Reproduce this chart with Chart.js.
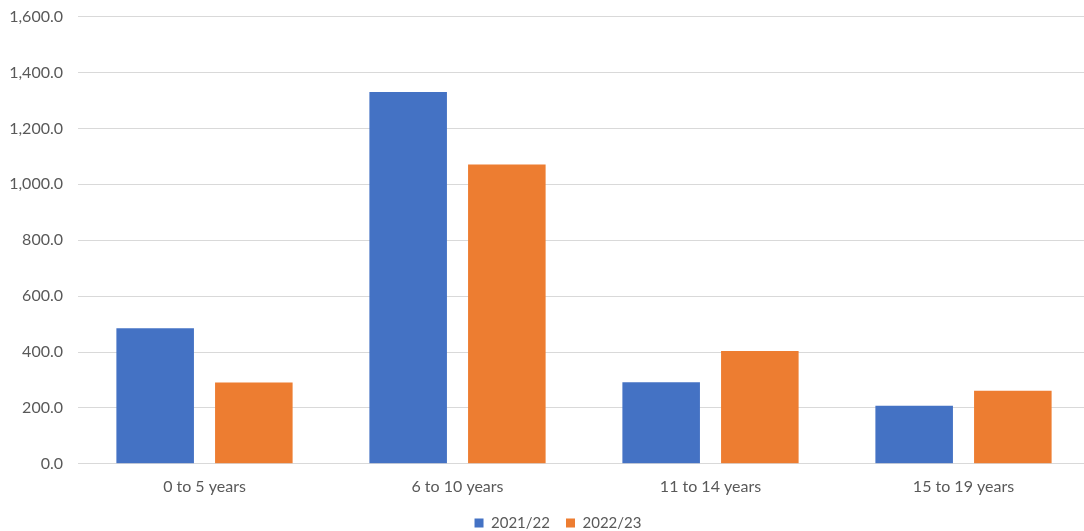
<!DOCTYPE html>
<html>
<head>
<meta charset="utf-8">
<script src="https://cdn.jsdelivr.net/npm/chart.js@4/dist/chart.umd.min.js"></script>
<style>
  html, body { margin: 0; padding: 0; background: #ffffff; }
  #frame { width: 1084px; height: 531px; overflow: hidden; position: relative; }
  #wrap { width: 1090px; height: 531px; position: relative; }
</style>
</head>
<body>
<div id="frame"><div id="wrap"><canvas id="chart"></canvas></div></div>
<script>
// Age bands on the x axis
const categories = ['0 to 5 years', '6 to 10 years', '11 to 14 years', '15 to 19 years'];

// Series values per age band
const series2021 = [485, 1330, 292, 208];
const series2022 = [291, 1071, 404, 261];

// Series names for the legend
const seriesNames = ['2021/22', '2022/23'];

// Value axis range
const yMin = 0;
const yMax = 1600;
const yStep = 200;

const fontFamily = "Lato, 'Open Sans', 'Liberation Sans', sans-serif";
const textColor = '#595959';

// Nudge the legend up a little and right of centre
const legendNudge = {
  id: 'legendNudge',
  afterLayout(chart) {
    const lg = chart.legend;
    if (!lg) return;
    const dx = 13, dy = -9.5;
    lg.left += dx; lg.right += dx;
    lg.top += dy; lg.bottom += dy;
  }
};

new Chart(document.getElementById('chart'), {
  type: 'bar',
  data: {
    labels: categories,
    datasets: [
      {
        label: seriesNames[0],
        data: series2021,
        backgroundColor: '#4472C4',
        categoryPercentage: 0.78,
        barPercentage: 0.786
      },
      {
        label: seriesNames[1],
        data: series2022,
        backgroundColor: '#ED7D31',
        categoryPercentage: 0.78,
        barPercentage: 0.786
      }
    ]
  },
  plugins: [legendNudge],
  options: {
    responsive: true,
    maintainAspectRatio: false,
    animation: false,
    layout: { padding: { top: 0, right: 0, left: 0, bottom: -19 } },
    plugins: {
      tooltip: { enabled: false },
      legend: {
        position: 'bottom',
        labels: {
          boxWidth: 9,
          boxHeight: 9,
          padding: 16,
          color: textColor,
          font: { family: fontFamily, size: 15 }
        }
      }
    },
    scales: {
      x: {
        grid: { display: false, drawTicks: false },
        border: { display: true, color: '#d9d9d9', width: 1 },
        ticks: {
          color: textColor,
          padding: 13,
          font: { family: fontFamily, size: 16 }
        }
      },
      y: {
        min: yMin,
        max: yMax,
        afterFit: (scale) => { scale.width = 78; },
        grid: { color: '#d9d9d9', lineWidth: 1, drawTicks: true, tickLength: 8, tickColor: 'rgba(0,0,0,0)' },
        border: { display: false },
        ticks: {
          stepSize: yStep,
          padding: 7,
          color: textColor,
          font: { family: fontFamily, size: 16 },
          callback: (v) => Number(v).toLocaleString('en-US', { minimumFractionDigits: 1, maximumFractionDigits: 1 })
        }
      }
    }
  }
});
</script>
</body>
</html>
